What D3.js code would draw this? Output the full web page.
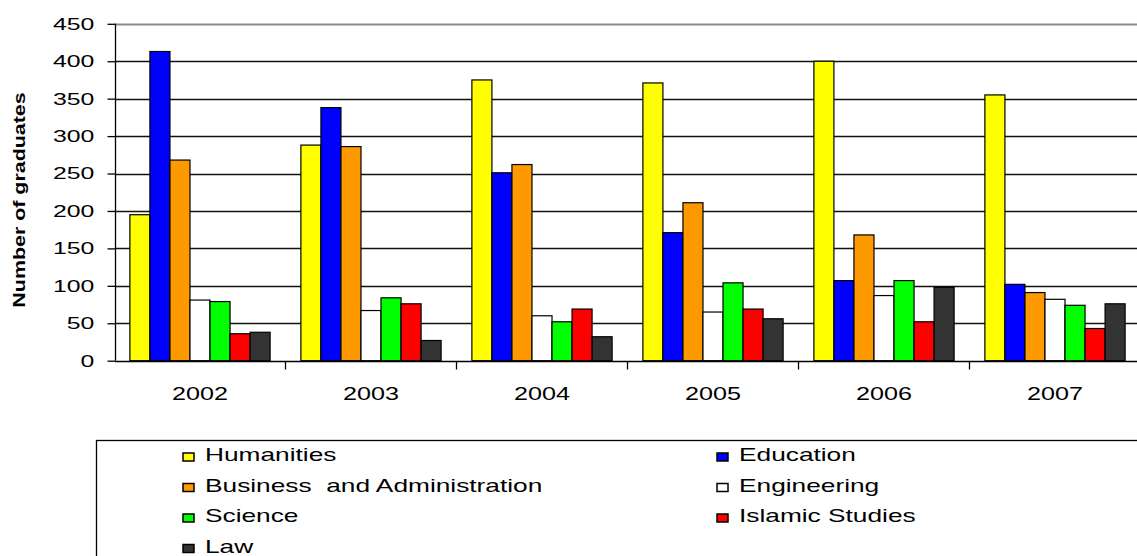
<!DOCTYPE html>
<html>
<head>
<meta charset="utf-8">
<script src="https://cdn.jsdelivr.net/npm/d3@7"></script>
<style>
    body { margin: 0; background: #fff; }
    svg { display: block; font-family: "Liberation Sans", Arial, sans-serif; }
    .tick text { font-size: 17px; fill: #000; }
</style>
</head>
<body>
<svg id="chart" width="1137" height="556"></svg>
<script>
// data
let years = ["2002", "2003", "2004", "2005", "2006", "2007"];
let fields = ["Humanities", "Education", "Business  and Administration", "Engineering", "Science", "Islamic Studies", "Law"];
let colors = ["#ffff00", "#0000ff", "#ff9900", "#ffffff", "#00ff00", "#ff0000", "#333333"];
let humanities = [195, 288, 375, 371, 400, 355];
let education = [413, 338, 251, 171, 107, 102];
let business = [268, 286, 262, 211, 168, 91];
let engineering = [81, 67, 60, 65, 87, 82];
let science = [79, 84, 52, 104, 107, 74];
let islamic = [36, 76, 69, 69, 52, 43];
let law = [38, 27, 32, 56, 98, 76];
let yTicks = [0, 50, 100, 150, 200, 250, 300, 350, 400, 450];

let series = [humanities, education, business, engineering, science, islamic, law];

// the reference text is stretched sideways
let stretch = 1.46;

let svg = d3.select("#chart");

let x0 = d3.scaleBand().domain(years).range([114.5, 1140.5]).paddingInner(0.18).paddingOuter(0.09);
let x1 = d3.scaleBand().domain(d3.range(fields.length)).range([0, x0.bandwidth()]);
let y = d3.scaleLinear().domain([0, 450]).range([360.7, 23.8]);

// gridlines
svg.append("g").selectAll("line").data(yTicks.filter(d => d > 0)).join("line")
    .attr("x1", 115).attr("x2", 1137)
    .attr("y1", d => Math.round(y(d)) + 0.5).attr("y2", d => Math.round(y(d)) + 0.5)
    .attr("stroke", d => d === 450 ? "#8c8c8c" : "#111").attr("stroke-width", d => d === 450 ? 2 : 1.3);

// bars
let groups = svg.append("g").selectAll("g").data(years).join("g")
    .attr("transform", d => "translate(" + x0(d) + ",0)");
groups.selectAll("rect").data((d, i) => series.map((s, k) => ({k: k, v: s[i]}))).join("rect")
    .attr("x", d => x1(d.k)).attr("width", x1.bandwidth())
    .attr("y", d => y(d.v)).attr("height", d => y(0) - y(d.v))
    .attr("fill", d => colors[d.k]).attr("stroke", "#000").attr("stroke-width", 1.2);

// y axis
let yAxis = svg.append("g").attr("transform", "translate(115.5,0)")
    .call(d3.axisLeft(y).tickValues(yTicks).tickSize(8).tickPadding(6.5));
yAxis.selectAll("path, line").attr("stroke", "#000").attr("stroke-width", 1.3);
yAxis.select(".domain").attr("d", "M0," + y(450) + "V" + y(0));
yAxis.selectAll(".tick text").attr("transform", "scale(" + stretch + ",1)");

// x axis
let xAxis = svg.append("g").attr("transform", "translate(0," + (Math.round(y(0)) + 0.5) + ")");
xAxis.append("line").attr("x1", 115).attr("x2", 1137).attr("stroke", "#000").attr("stroke-width", 1.3);
xAxis.selectAll(".sep").data(years.slice(1)).join("line").classed("sep", true)
    .attr("x1", d => x0(d) - x0.step() * 0.09).attr("x2", d => x0(d) - x0.step() * 0.09)
    .attr("y1", 0).attr("y2", 8).attr("stroke", "#000").attr("stroke-width", 1.3);
xAxis.selectAll("text").data(years).join("text")
    .attr("transform", d => "translate(" + (x0(d) + x0.bandwidth() / 2) + ",38.5) scale(1.36,1)")
    .attr("text-anchor", "middle").attr("font-size", 18.5).text(d => d);

// y axis title
svg.append("text").attr("transform", "translate(24.5,200) rotate(-90) scale(1.26,1)")
    .attr("text-anchor", "middle").attr("font-size", 17).attr("font-weight", "bold")
    .text("Number of graduates");

// legend
svg.append("rect").attr("x", 96.5).attr("y", 440.5).attr("width", 1100).attr("height", 200)
    .attr("fill", "none").attr("stroke", "#000").attr("stroke-width", 1.3);
let legend = svg.append("g").selectAll("g").data(fields).join("g")
    .attr("transform", (d, i) => "translate(" + (i % 2 === 0 ? 182 : 716) + "," + (461 + Math.floor(i / 2) * 30.5) + ")");
legend.append("rect").attr("x", 1).attr("y", -8).attr("width", 11).attr("height", 8)
    .attr("fill", (d, i) => colors[i]).attr("stroke", "#000").attr("stroke-width", 1.5);
legend.append("text").attr("transform", "translate(23,0) scale(" + stretch + ",1)")
    .attr("font-size", 18).text(d => d)
    .style("white-space", "pre");
</script>
</body>
</html>
